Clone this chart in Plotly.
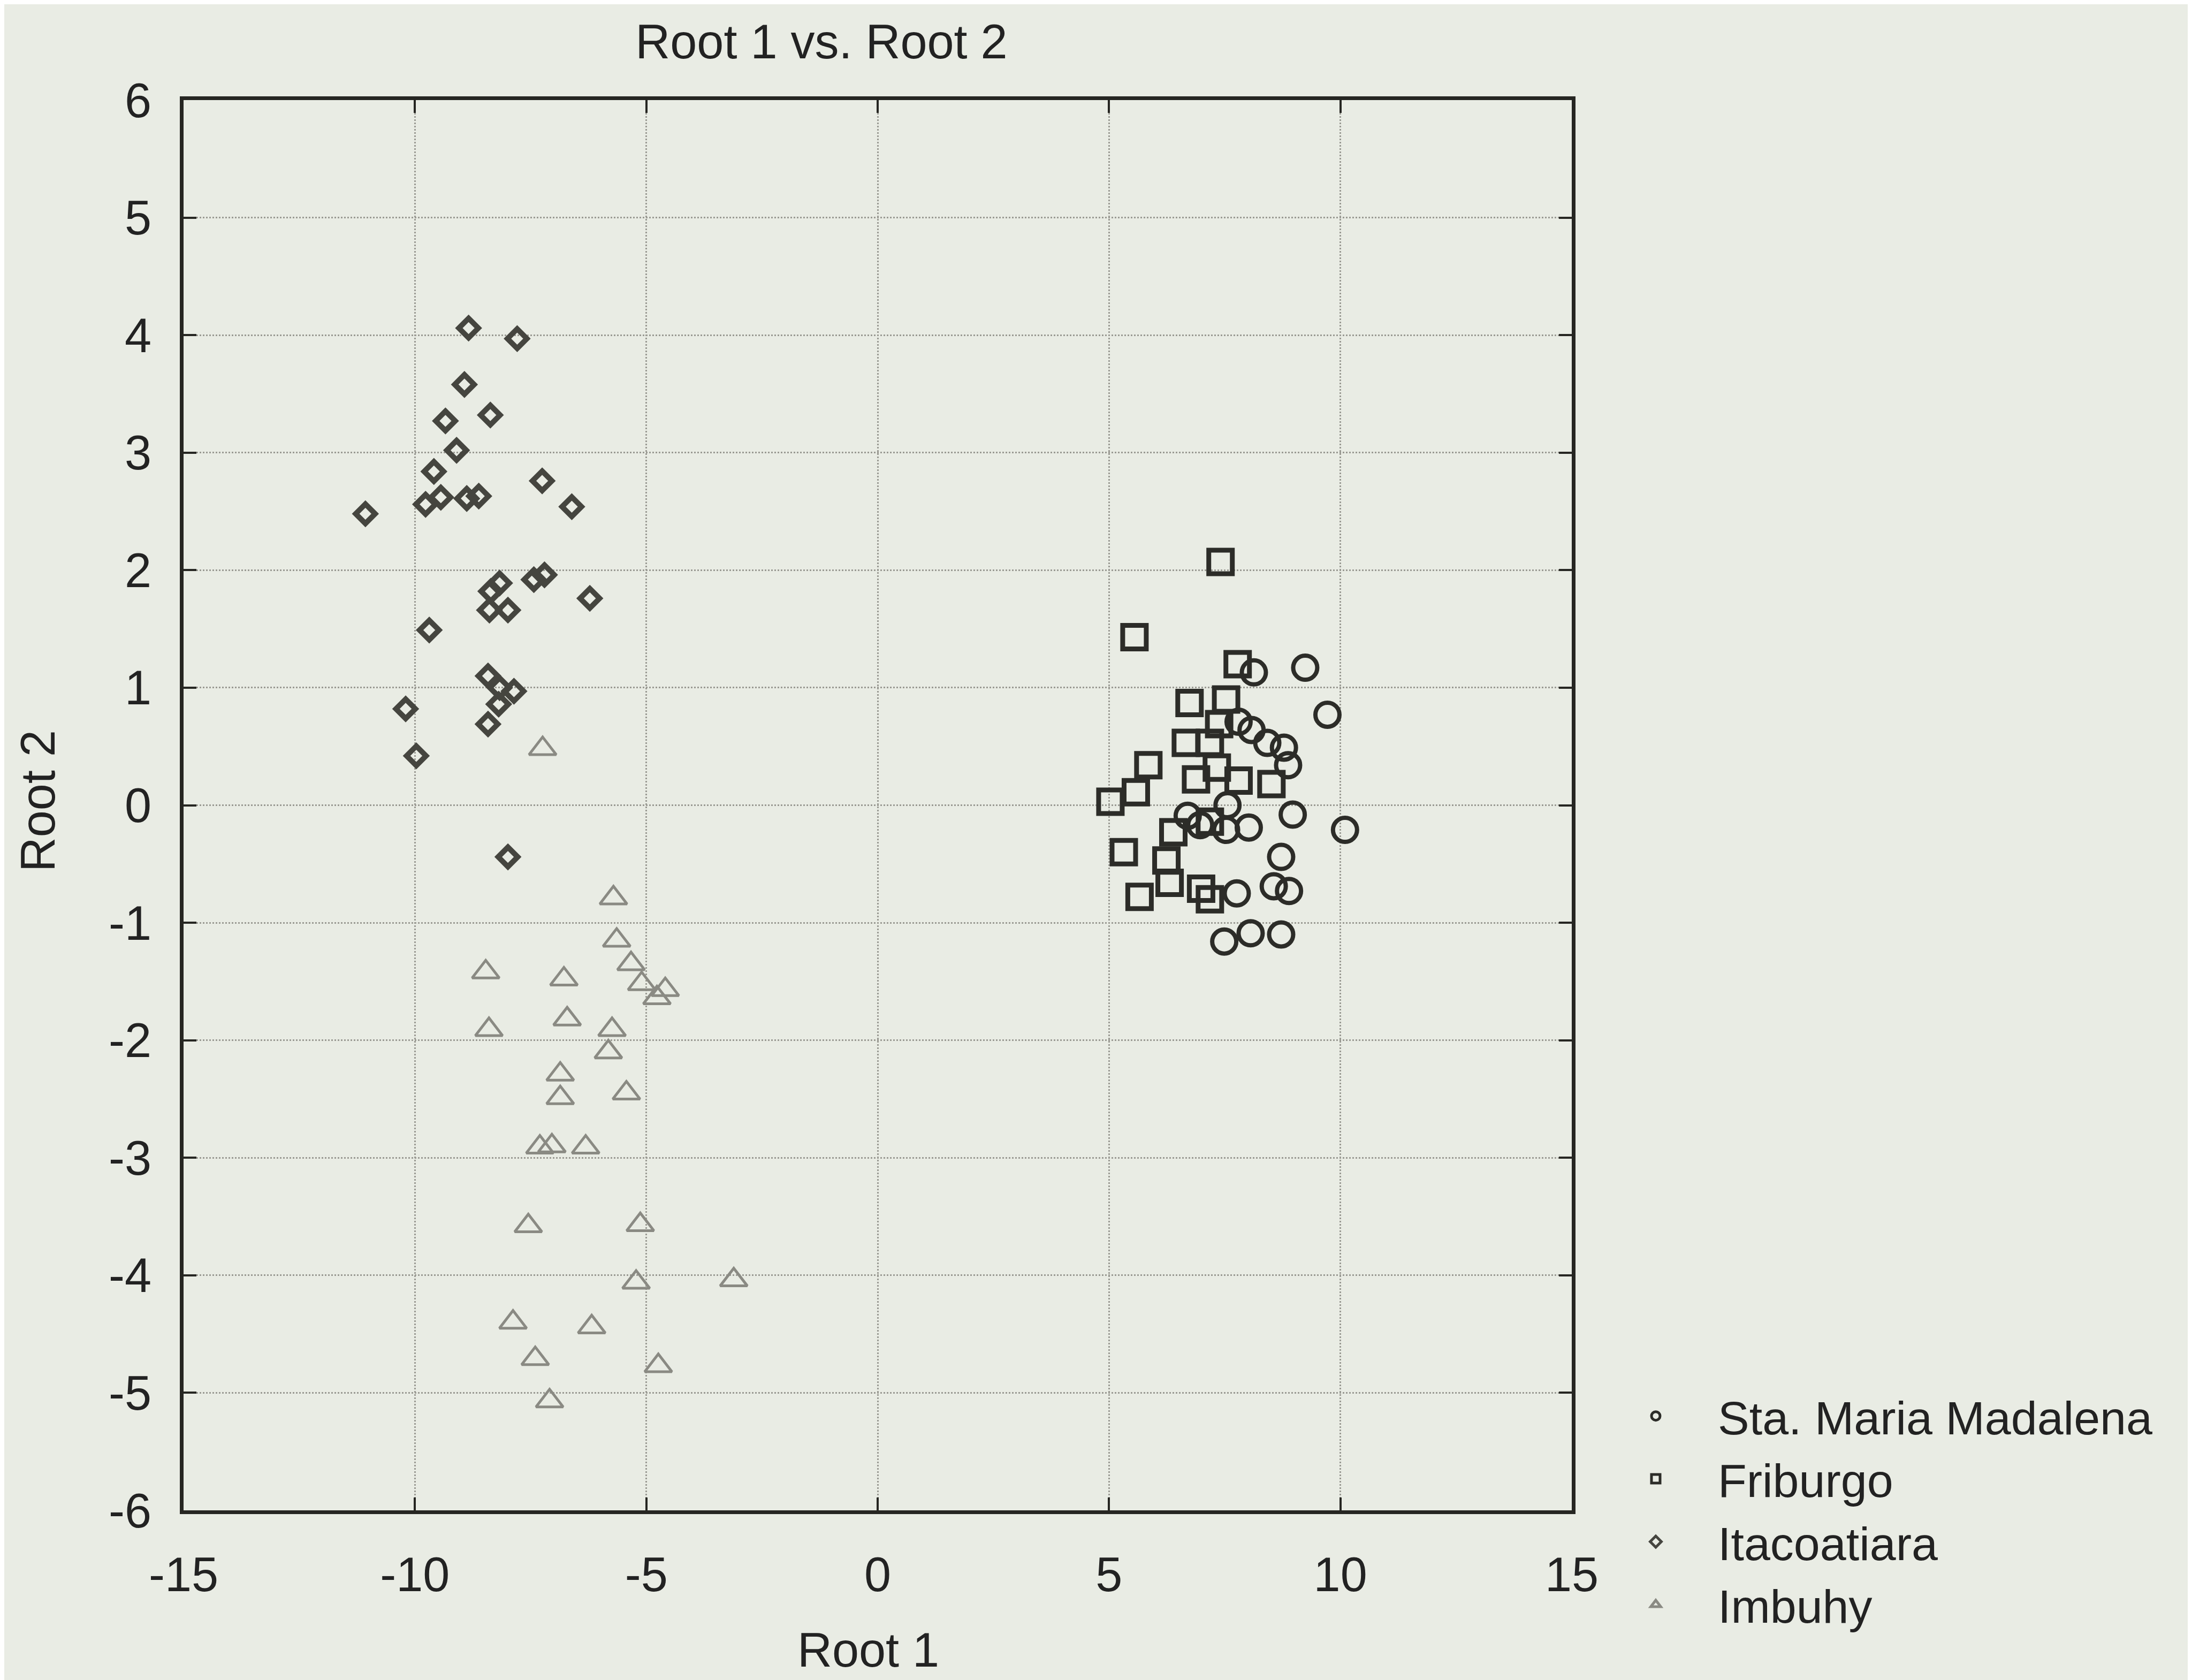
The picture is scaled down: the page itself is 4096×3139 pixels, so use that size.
import plotly.graph_objects as go

# ---------------- data ----------------
smm_x = [8.13, 9.24, 9.72, 7.80, 8.08, 8.42, 8.78, 8.87, 7.56, 6.70, 6.97, 7.53, 8.02,
         8.97, 10.10, 8.72, 8.56, 8.89, 7.76, 7.49, 8.06, 8.72]
smm_y = [1.13, 1.17, 0.77, 0.71, 0.64, 0.53, 0.49, 0.34, 0.00, -0.09, -0.17, -0.21, -0.19,
         -0.08, -0.21, -0.44, -0.69, -0.73, -0.75, -1.16, -1.09, -1.10]

fri_x = [7.41, 5.55, 7.78, 6.74, 7.53, 7.38, 6.66, 7.18, 5.85, 5.58, 5.03, 6.88, 7.33,
         7.80, 8.51, 6.39, 7.18, 5.32, 6.24, 6.31, 5.66, 6.99, 7.18]
fri_y = [2.07, 1.43, 1.20, 0.87, 0.90, 0.69, 0.53, 0.53, 0.34, 0.11, 0.03, 0.22, 0.32,
         0.21, 0.18, -0.23, -0.14, -0.40, -0.47, -0.66, -0.78, -0.71, -0.80]

ita_x = [-8.84, -7.79, -8.93, -8.37, -9.34, -9.10, -9.59, -7.25, -11.07, -9.77, -9.44,
         -8.88, -8.62, -6.61, -8.17, -8.36, -8.39, -7.99, -7.43, -7.20, -6.22, -9.69,
         -8.42, -8.17, -7.86, -8.19, -10.20, -8.42, -9.97, -7.99]
ita_y = [4.06, 3.97, 3.58, 3.32, 3.27, 3.02, 2.84, 2.76, 2.48, 2.56, 2.62, 2.61, 2.63,
         2.54, 1.89, 1.82, 1.66, 1.66, 1.92, 1.96, 1.76, 1.49, 1.10, 1.00, 0.97, 0.86,
         0.82, 0.69, 0.42, -0.44]

imb_x = [-7.24, -5.71, -5.64, -5.33, -5.10, -4.59, -4.77, -8.47, -6.78, -6.71, -8.40,
         -5.74, -5.82, -6.86, -6.86, -5.43, -7.30, -7.04, -6.31, -7.55, -5.13, -5.22,
         -3.11, -7.88, -6.18, -7.40, -4.74, -7.09]
imb_y = [0.48, -0.79, -1.15, -1.35, -1.52, -1.57, -1.64, -1.42, -1.48, -1.82, -1.91,
         -1.91, -2.10, -2.29, -2.49, -2.45, -2.91, -2.90, -2.91, -3.58, -3.57, -4.06,
         -4.04, -4.40, -4.44, -4.71, -4.77, -5.07]

series_names = ["Sta. Maria Madalena", "Friburgo", "Itacoatiara", "Imbuhy"]

x_ticks = [-15, -10, -5, 0, 5, 10, 15]
x_ticktext = ["-15", "-10", "-5", "0", "5", "10", "15"]
y_ticks = [-6, -5, -4, -3, -2, -1, 0, 1, 2, 3, 4, 5, 6]
y_ticktext = ["-6", "-5", "-4", "-3", "-2", "-1", "0", "1", "2", "3", "4", "5", "6"]

title_text = "Root 1 vs. Root 2"
x_title = "Root 1"
y_title = "Root 2"

# ---------------- styling ----------------
W, H = 4096, 3139
BG = "#e9ece4"
FONT = "Liberation Sans, Arial, sans-serif"
TXT = "#222222"
FS = 90

fig = go.Figure()

fig.add_trace(go.Scatter(
    x=smm_x, y=smm_y, mode="markers", name=series_names[0],
    marker=dict(symbol="circle-open", size=45, color="#2c2c28",
                line=dict(width=8, color="#2c2c28")),
))
fig.add_trace(go.Scatter(
    x=fri_x, y=fri_y, mode="markers", name=series_names[1],
    marker=dict(symbol="square-open", size=44, color="#2c2c28",
                line=dict(width=9, color="#2c2c28")),
))
fig.add_trace(go.Scatter(
    x=ita_x, y=ita_y, mode="markers", name=series_names[2],
    marker=dict(symbol="diamond-open", size=28, color="#45453f",
                line=dict(width=10, color="#45453f")),
))
fig.add_trace(go.Scatter(
    x=imb_x, y=imb_y, mode="markers", name=series_names[3],
    marker=dict(symbol="triangle-up-open", size=44, color="#8a8a83",
                line=dict(width=5, color="#8a8a83")),
))

axis_common = dict(
    showgrid=True, gridcolor="#9a9a93", gridwidth=3, griddash="dot",
    zeroline=False, showline=True, linecolor="#262622", linewidth=7,
    mirror="ticks", ticks="inside", ticklen=24, tickwidth=4, tickcolor="#262622",
    tickfont=dict(family=FONT, size=FS, color=TXT),
)

fig.update_xaxes(range=[-15, 15], tickvals=x_ticks, ticktext=x_ticktext,
                 ticklabelstandoff=36, **axis_common)
fig.update_yaxes(range=[-6, 6], tickvals=y_ticks, ticktext=y_ticktext,
                 ticklabelstandoff=35, **axis_common)

fig.update_layout(
    width=W, height=H,
    paper_bgcolor=BG, plot_bgcolor=BG,
    margin=dict(l=335, r=1167, t=179, b=325, autoexpand=False),
    font=dict(family=FONT, size=FS, color=TXT),
    title=dict(text=title_text, x=0.3728, xref="container", xanchor="center",
               y=0.9777, yref="container", yanchor="middle",
               font=dict(family=FONT, size=FS, color=TXT)),
    showlegend=True,
    legend=dict(x=1.0158, xanchor="left", y=0.0, yanchor="middle",
                bgcolor="rgba(0,0,0,0)", borderwidth=0,
                font=dict(family=FONT, size=88, color=TXT),
                itemwidth=222, itemsizing="trace"),
    annotations=[
        dict(text=x_title, xref="paper", yref="paper", x=0.4934, y=-0.099,
             xanchor="center", yanchor="middle", showarrow=False,
             font=dict(family=FONT, size=FS, color=TXT)),
        dict(text=y_title, xref="paper", yref="paper", x=-0.105, y=0.503,
             xanchor="center", yanchor="middle", showarrow=False, textangle=-90,
             font=dict(family=FONT, size=FS, color=TXT)),
    ],
)

fig.write_html("out.html")
